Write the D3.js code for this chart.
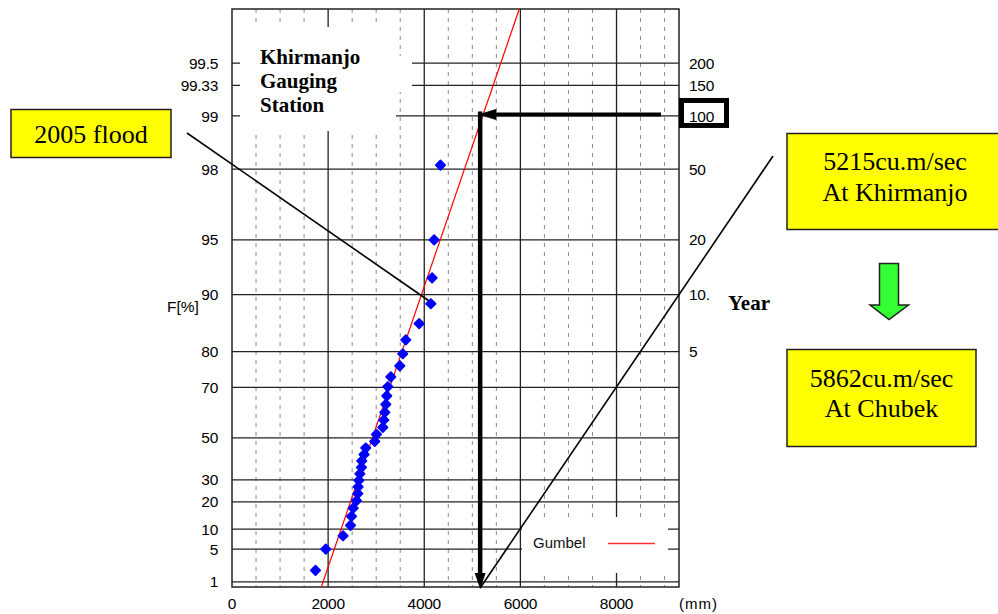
<!DOCTYPE html>
<html>
<head>
<meta charset="utf-8">
<script src="https://cdn.jsdelivr.net/npm/d3@7"></script>
<style>
  body { margin: 0; background: #fff; }
  svg { display: block; }
</style>
</head>
<body>
<div id="chart"></div>
<script>

// probability axis (F %) tick values and labels
const fTicks = [1, 5, 10, 20, 30, 50, 70, 80, 90, 95, 98, 99, 99.33, 99.5];
const fTickLabels = ['1', '5', '10', '20', '30', '50', '70', '80', '90', '95', '98', '99', '99.33', '99.5'];

// return period axis (years)
const returnYears = [5, 10, 20, 50, 100, 150, 200];
const returnLabels = ['5', '10.', '20', '50', '100', '150', '200'];

// discharge axis
const xTicks = [0, 2000, 4000, 6000, 8000];
const xMinorTicks = [500, 1000, 1500, 2500, 3000, 3500, 4500, 5000, 5500, 6500, 7000, 7500, 8500, 9000];

// observed annual maxima, sorted, with their plotting position F (%)
const plotPos = [1.9, 5.0, 8.1, 11.2, 14.3, 17.4, 20.5, 23.6, 26.7, 29.8, 32.9, 36.0, 39.1, 42.2, 45.3, 48.4,
                 51.6, 54.7, 57.8, 60.9, 64.0, 67.1, 70.2, 73.3, 76.4, 79.5, 82.6, 85.7, 88.8, 91.9, 95.0, 98.1];
const discharge = [1737, 1951, 2311, 2465, 2486, 2520, 2590, 2617, 2624, 2640, 2660, 2694, 2700, 2748, 2783, 2970,
                   3006, 3137, 3158, 3179, 3200, 3220, 3241, 3304, 3491, 3553, 3616, 3894, 4136, 4163, 4205, 4337];

// fitted gumbel line, two points on it (F %, discharge)
const gumbelF = [1, 99];
const gumbelQ = [1895, 5215];

// design flood (100 year) and the 2005 flood rank
const designYear = 100;
const designQ = 5215;
const flood2005Index = 28;

const width = 998, height = 614;
const plot = {left: 232, right: 679, top: 9, bottom: 587};

// gumbel reduced variate
const reduced = p => -Math.log(-Math.log(p));

const svg = d3.select('#chart').append('svg')
  .attr('width', width)
  .attr('height', height);

svg.append('rect')
  .attr('width', width).attr('height', height)
  .attr('fill', '#fff');

const xScale = d3.scaleLinear()
  .domain([0, 9300])
  .range([plot.left, plot.right]);

const yScale = d3.scaleLinear()
  .domain([-1.595, 6.007])
  .range([plot.bottom, plot.top]);

const yF = f => yScale(reduced(f / 100));

const axisFont = '"Liberation Sans", Arial, sans-serif';
const serifFont = '"Liberation Serif", "Times New Roman", serif';

// grid
const grid = svg.append('g').attr('class', 'grid');

grid.selectAll('.minor')
  .data(xMinorTicks)
  .enter().append('line')
    .attr('class', 'minor')
    .attr('x1', xScale).attr('x2', xScale)
    .attr('y1', plot.top).attr('y2', plot.bottom)
    .attr('stroke', '#8a8a8a')
    .attr('stroke-width', 1)
    .attr('stroke-dasharray', '4,5');

grid.selectAll('.major-x')
  .data(xTicks.slice(1))
  .enter().append('line')
    .attr('class', 'major-x')
    .attr('x1', xScale).attr('x2', xScale)
    .attr('y1', plot.top).attr('y2', plot.bottom)
    .attr('stroke', '#222')
    .attr('stroke-width', 1.3);

grid.selectAll('.major-y')
  .data(fTicks)
  .enter().append('line')
    .attr('class', 'major-y')
    .attr('x1', plot.left).attr('x2', plot.right)
    .attr('y1', yF).attr('y2', yF)
    .attr('stroke', '#222')
    .attr('stroke-width', 1.3);

svg.append('rect')
  .attr('x', plot.left).attr('y', plot.top)
  .attr('width', plot.right - plot.left)
  .attr('height', plot.bottom - plot.top)
  .attr('fill', 'none')
  .attr('stroke', '#222')
  .attr('stroke-width', 1.5);

// white patches behind the station name and legend
svg.append('rect')
  .attr('x', 240).attr('y', 27).attr('width', 156).attr('height', 104)
  .attr('fill', '#fff');
svg.append('rect')
  .attr('x', 396).attr('y', 56).attr('width', 16).attr('height', 36)
  .attr('fill', '#fff');
svg.append('rect')
  .attr('x', 522).attr('y', 517).attr('width', 146).attr('height', 56)
  .attr('fill', '#fff');

// axis labels
svg.selectAll('.f-label')
  .data(fTicks)
  .enter().append('text')
    .attr('class', 'f-label')
    .attr('x', 218)
    .attr('y', yF)
    .attr('dy', '0.36em')
    .attr('text-anchor', 'end')
    .attr('font-family', axisFont)
    .attr('font-size', 15.5)
    .attr('letter-spacing', -0.3)
    .attr('fill', '#000')
    .text((d, i) => fTickLabels[i]);

svg.append('text')
  .attr('x', 167).attr('y', 312)
  .attr('font-family', axisFont)
  .attr('font-size', 15.5)
  .attr('fill', '#000')
  .text('F[%]');

// box around the 100 year label
svg.append('rect')
  .attr('x', 681.5).attr('y', yF(100 - 100 / designYear) - 15.5)
  .attr('width', 45).attr('height', 25)
  .attr('fill', '#fff')
  .attr('stroke', '#000')
  .attr('stroke-width', 5);

svg.selectAll('.t-label')
  .data(returnYears)
  .enter().append('text')
    .attr('class', 't-label')
    .attr('x', 689)
    .attr('y', d => yF(100 - 100 / d))
    .attr('dy', '0.36em')
    .attr('font-family', axisFont)
    .attr('font-size', 15.5)
    .attr('letter-spacing', -0.3)
    .attr('fill', '#000')
    .text((d, i) => returnLabels[i]);

svg.selectAll('.x-label')
  .data(xTicks)
  .enter().append('text')
    .attr('class', 'x-label')
    .attr('x', xScale)
    .attr('y', 609)
    .attr('text-anchor', 'middle')
    .attr('font-family', axisFont)
    .attr('font-size', 15.5)
    .attr('letter-spacing', -0.3)
    .attr('fill', '#000')
    .text(d => d);

svg.append('text')
  .attr('x', 679).attr('y', 609)
  .attr('font-family', axisFont)
  .attr('font-size', 15)
  .attr('letter-spacing', 1)
  .attr('fill', '#000')
  .text('(mm)');

// gumbel fitted line, clipped to the plot
svg.append('clipPath').attr('id', 'plot-clip')
  .append('rect')
    .attr('x', plot.left).attr('y', plot.top)
    .attr('width', plot.right - plot.left)
    .attr('height', plot.bottom - plot.top);

const g0 = reduced(gumbelF[0] / 100), g1 = reduced(gumbelF[1] / 100);
const gSlope = (gumbelQ[1] - gumbelQ[0]) / (g1 - g0);
const gumbelQAt = r => gumbelQ[0] + gSlope * (r - g0);

const gumbelLine = d3.line()
  .x(r => xScale(gumbelQAt(r)))
  .y(r => yScale(r));

svg.append('path')
  .attr('clip-path', 'url(#plot-clip)')
  .attr('d', gumbelLine(yScale.domain()))
  .attr('fill', 'none')
  .attr('stroke', '#ff0000')
  .attr('stroke-width', 1.2);

// legend
svg.append('text')
  .attr('x', 533).attr('y', 543)
  .attr('dy', '0.36em')
  .attr('font-family', axisFont)
  .attr('font-size', 15)
  .attr('fill', '#111')
  .text('Gumbel');
svg.append('line')
  .attr('x1', 608).attr('x2', 655)
  .attr('y1', 543.5).attr('y2', 543.5)
  .attr('stroke', '#ff3030')
  .attr('stroke-width', 1.3);

// observed points
const diamond = d3.symbol().type(d3.symbolDiamond2).size(56);

svg.selectAll('.pt')
  .data(discharge)
  .enter().append('path')
    .attr('class', 'pt')
    .attr('d', diamond)
    .attr('transform', (d, i) => `translate(${xScale(d)},${yF(plotPos[i])})`)
    .attr('fill', '#0000ff')
    .attr('stroke', '#0000ff')
    .attr('stroke-width', 1.8)
    .attr('stroke-linejoin', 'round');

// 2005 flood box and pointer
const fx = xScale(discharge[flood2005Index]);
const fy = yF(plotPos[flood2005Index]);

svg.append('line')
  .attr('x1', 187).attr('y1', 133)
  .attr('x2', fx - 2).attr('y2', fy - 3)
  .attr('stroke', '#000')
  .attr('stroke-width', 1.6);

svg.append('rect')
  .attr('x', 11).attr('y', 109.5).attr('width', 160).attr('height', 48)
  .attr('fill', '#ffff00')
  .attr('stroke', '#222')
  .attr('stroke-width', 1.5);
svg.append('text')
  .attr('x', 91).attr('y', 143)
  .attr('text-anchor', 'middle')
  .attr('font-family', serifFont)
  .attr('font-size', 26)
  .text('2005 flood');

// station name
svg.selectAll('.station')
  .data(['Khirmanjo', 'Gauging', 'Station'])
  .enter().append('text')
    .attr('class', 'station')
    .attr('x', 260)
    .attr('y', (d, i) => 64 + i * 24)
    .attr('font-family', serifFont)
    .attr('font-weight', 'bold')
    .attr('font-size', 21)
    .text(d => d);

// design flood arrows
const ax = xScale(designQ) - 2.5;
const ay = yF(100 - 100 / designYear) - 1.5;

svg.append('line')
  .attr('x1', ax + 12).attr('x2', 661)
  .attr('y1', ay).attr('y2', ay)
  .attr('stroke', '#000')
  .attr('stroke-width', 4);
svg.append('path')
  .attr('d', `M${ax - 2},${ay}L${ax + 16},${ay - 5.5}L${ax + 16},${ay + 5.5}Z`)
  .attr('fill', '#000');

svg.append('line')
  .attr('x1', ax).attr('x2', ax)
  .attr('y1', ay - 3).attr('y2', plot.bottom - 12)
  .attr('stroke', '#000')
  .attr('stroke-width', 4.5);
svg.append('path')
  .attr('d', `M${ax - 5.5},${plot.bottom - 14}L${ax + 5.5},${plot.bottom - 14}L${ax},${plot.bottom + 2}Z`)
  .attr('fill', '#000');

svg.append('line')
  .attr('x1', ax).attr('y1', plot.bottom + 1)
  .attr('x2', 773).attr('y2', 156)
  .attr('stroke', '#000')
  .attr('stroke-width', 1.6);

// result boxes
svg.append('rect')
  .attr('x', 787).attr('y', 133.5).attr('width', 216).attr('height', 96)
  .attr('fill', '#ffff00')
  .attr('stroke', '#222')
  .attr('stroke-width', 1.5);
svg.selectAll('.res1')
  .data([`${designQ}cu.m/sec`, 'At Khirmanjo'])
  .enter().append('text')
    .attr('class', 'res1')
    .attr('x', 895)
    .attr('y', (d, i) => 170 + i * 30.5)
    .attr('text-anchor', 'middle')
    .attr('font-family', serifFont)
    .attr('font-size', 26)
    .text(d => d);

svg.append('path')
  .attr('d', 'M879.5,263.5L898.5,263.5L898.5,305L908.5,305L889,319.5L870,305L879.5,305Z')
  .attr('fill', '#33ff33')
  .attr('stroke', '#222')
  .attr('stroke-width', 1.5);

svg.append('rect')
  .attr('x', 787).attr('y', 349.5).attr('width', 189).attr('height', 97)
  .attr('fill', '#ffff00')
  .attr('stroke', '#222')
  .attr('stroke-width', 1.5);
svg.selectAll('.res2')
  .data(['5862cu.m/sec', 'At Chubek'])
  .enter().append('text')
    .attr('class', 'res2')
    .attr('x', 881.5)
    .attr('y', (d, i) => 386.5 + i * 30)
    .attr('text-anchor', 'middle')
    .attr('font-family', serifFont)
    .attr('font-size', 26)
    .text(d => d);

svg.append('text')
  .attr('x', 728).attr('y', 310)
  .attr('font-family', serifFont)
  .attr('font-weight', 'bold')
  .attr('font-size', 21)
  .text('Year');

</script>
</body>
</html>
